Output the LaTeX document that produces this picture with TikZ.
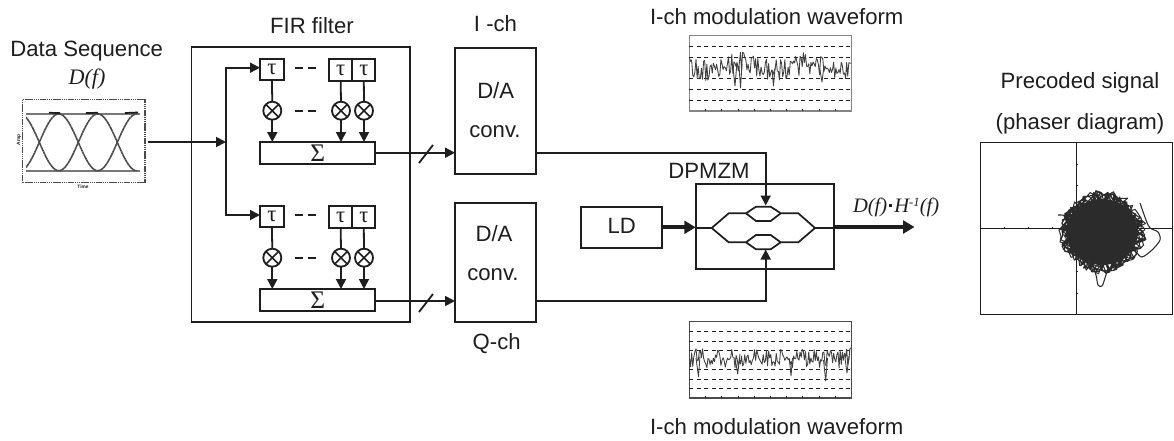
\documentclass[tikz,border=0pt]{standalone}
\usepackage{fontspec}
\setmainfont{Liberation Sans}
\newfontfamily\tmf{Liberation Serif}
\usetikzlibrary{arrows.meta,calc}
\definecolor{ink}{HTML}{1E1E1E}
\definecolor{wavegray}{HTML}{858585}
\definecolor{blobc}{HTML}{2B2B2B}
\newcommand{\pxbox}[7][]{%
  \pgfmathsetmacro\pxw{(#5-#3)*0.75}%
  \pgfmathsetmacro\pxh{(#6-#4)*0.75}%
  \node[boxn,#1,minimum width=\pxw pt,minimum height=\pxh pt] (#2) at ({(#3+#5)/2},{(#4+#6)/2}) {#7};}
\newcommand{\dfh}{{\tmf\itshape\fontsize{15.4pt}{17pt}\selectfont D(f)\hspace{1.5pt}\raisebox{3.5pt}{\rule{2.4pt}{2.4pt}}\hspace{1.5pt}H\raisebox{4.5pt}{\fontsize{9.5pt}{9.5pt}\selectfont -1}(f)}}
\begin{document}
\begin{tikzpicture}[x=0.75pt,y=-0.75pt,
  every node/.style={text=ink},
  lab/.style={font=\fontsize{16.6pt}{18pt}\selectfont,inner sep=0pt,outer sep=0pt},
  boxn/.style={draw=ink,line width=1.35pt,inner sep=0pt,outer sep=0pt,font=\fontsize{16.6pt}{18pt}\selectfont},
  taubox/.style={boxn,font=\tmf\fontsize{17pt}{17pt}\selectfont},
  sumbox/.style={boxn,font=\tmf\fontsize{19pt}{19pt}\selectfont},
  mult/.style={circle,draw=ink,line width=1.35pt,minimum size=13.5pt,inner sep=0pt,outer sep=0pt,
    path picture={\draw[ink,line width=1.2pt] ([shift={(1.5pt,-1.5pt)}]path picture bounding box.north west)--([shift={(-1.5pt,1.5pt)}]path picture bounding box.south east)
      ([shift={(-1.5pt,-1.5pt)}]path picture bounding box.north east)--([shift={(1.5pt,1.5pt)}]path picture bounding box.south west);}},
  conn/.style={draw=ink,line width=1.35pt},
  arr/.style={conn,-{Triangle[length=7.5pt,width=7.5pt]}},
  thickarr/.style={draw=ink,line width=3pt,-{Triangle[length=8.5pt,width=9.5pt]}},
  gaps/.style={draw=ink,line width=1.35pt,dash pattern=on 6pt off 3.5pt},
  griddash/.style={draw=ink,line width=0.6pt,dash pattern=on 3pt off 2.6pt},
  tick/.style={draw=ink,line width=0.5pt},
  wave/.style={draw=ink!85,line width=0.65pt,line join=round},
  mzm/.style={draw=ink,line width=1.3pt,line join=miter}]
\useasboundingbox (0,0) rectangle (1174,440);
\fill[white] (0,0) rectangle (1174,440);

% ---- left: data sequence
\node[lab] (dslabel) at (86.7,50.7) {Data Sequence};
\node[lab,font=\tmf\itshape\fontsize{16.6pt}{18pt}\selectfont] (dflabel) at (87,79) {D(f)};
\pxbox[draw=ink!80,line width=0.9pt,dash pattern=on 1pt off 0.4pt]{eye}{22.7}{99.3}{145}{182.7}{}
\node[inner sep=0pt,font=\bfseries\fontsize{3.6pt}{4pt}\selectfont] (eyex) at (83,187) {Time};
\node[inner sep=0pt,rotate=90,font=\bfseries\fontsize{3.6pt}{4pt}\selectfont] (eyey) at (19,140) {Amp};
\begin{scope}
  \clip (26,105) rectangle (140,178);
  \draw[ink!60,line width=1.6pt] (26,114)--(140,114) (26,170.7)--(140,170.7);
  \foreach \xc in {39.3,78.3,117.3}{
    \draw[ink!80,line width=1.2pt,dash pattern=on 2pt off 0.3pt] plot[domain=-19.5:19.5,samples=30] ({\xc+\x},{142.3-28.4*sin(\x/39*180)});
    \draw[ink!80,line width=1.2pt,dash pattern=on 2pt off 0.3pt] plot[domain=-19.5:19.5,samples=30] ({\xc+\x},{142.3+28.4*sin(\x/39*180)});
  }
  \draw[ink,line width=1.3pt] (49,112.8)--(60,113) (86,113)--(98,112.8) (125,113)--(138,112.5);
\end{scope}

% ---- FIR filter
\node[lab] (firlabel) at (312,26) {FIR filter};
\pxbox{fir}{191.5}{46.7}{410}{322.3}{}
% top branch
\pxbox[taubox]{ta}{260}{59}{283.7}{80}{τ}
\pxbox[taubox]{tb}{329}{59.3}{352.3}{81.3}{τ}
\pxbox[taubox]{tc}{352.3}{59.3}{375.3}{81.3}{τ}
\node[mult] (ma) at (272.3,110.7) {};
\node[mult] (mb) at (341,110.7) {};
\node[mult] (mc) at (364,110.7) {};
\pxbox[sumbox]{sa}{260}{142}{375.3}{164}{Σ}
% bottom branch
\pxbox[taubox]{td}{260}{205.7}{283.7}{227.3}{τ}
\pxbox[taubox]{te}{329}{206.3}{352.3}{228}{τ}
\pxbox[taubox]{tf}{352.3}{206.3}{375.3}{228}{τ}
\node[mult] (md) at (272.3,257.7) {};
\node[mult] (me) at (341,257.7) {};
\node[mult] (mf) at (364,257.7) {};
\pxbox[sumbox]{sb}{260}{289}{375.3}{311}{Σ}
\foreach \t/\m/\s in {ta/ma/sa,tb/mb/sa,tc/mc/sa,td/md/sb,te/me/sb,tf/mf/sb}{
  \draw[conn] (\t.south) -- (\m.north);
  \draw[arr] (\m.south) -- (\m.south |- \s.north);
}
\coordinate (din) at (148,142);
\coordinate (jm) at (226,142);
\coordinate (jt) at (226,67.7);
\coordinate (jb) at (226,215);
\draw[arr] (din) -- (jm);
\draw[conn,line cap=rect] (jt) -- (jb);
\draw[arr] (jt) -- (jt -| ta.west);
\draw[arr] (jb) -- (jb -| td.west);
\coordinate (da1) at (295,67.7); \coordinate (da2) at (316,67.7);
\coordinate (db1) at (295,110.7); \coordinate (db2) at (316,110.7);
\coordinate (dc1) at (295,215); \coordinate (dc2) at (316,215);
\coordinate (dd1) at (295,257.7); \coordinate (dd2) at (316,257.7);
\draw[gaps] (da1)--(da2);
\draw[gaps] (db1)--(db2);
\draw[gaps] (dc1)--(dc2);
\draw[gaps] (dd1)--(dd2);

% ---- D/A
\node[lab] (ilabel) at (495.5,23.5) {I -ch};
\node[lab] (qlabel) at (496.7,343.3) {Q-ch};
\pxbox{daa}{455}{48.3}{536}{174}{}
\pxbox{dab}{455}{202.7}{536}{322.3}{}
\node[lab] (daat) at (495.7,90.7) {D/A};
\node[lab] (daac) at (495,132) {conv.};
\node[lab] (dabt) at (494,234) {D/A};
\node[lab] (dabc) at (493,275) {conv.};
\coordinate (oa) at (375.3,152.7);
\coordinate (ob) at (375.3,301);
\draw[arr] (oa) -- (oa -| daa.west);
\draw[arr] (ob) -- (ob -| dab.west);
\coordinate (sl1) at (419,163); \coordinate (sl2) at (433,145);
\coordinate (sl3) at (419,312); \coordinate (sl4) at (433,294);
\draw[conn] (sl1)--(sl2);
\draw[conn] (sl3)--(sl4);

% ---- DPMZM
\node[lab] (dpl) at (709,170.7) {DPMZM};
\pxbox{dp}{695.7}{184.3}{834.3}{269.3}{}
\pxbox{ld}{581.3}{207.3}{662.3}{248.3}{}
\node[lab] (ldt) at (621.7,226) {LD};
\coordinate (ldout) at (662.3,227.3);
\coordinate (dpin) at (695.7,227.3);
\draw[thickarr] (ldout) -- (dpin);
\coordinate (dpout) at (834.3,227);
\coordinate (optout) at (914.5,227);
\draw[thickarr] (dpout) -- (optout);
\node[lab,anchor=west] (outlabel) at (853,207) {\dfh};
\draw[mzm] (695.7,228) -- (711.7,228)
  -- (728.7,213.3) -- (746,213.3) -- (756,206.7) -- (770.7,206.7) -- (780.7,213.3) -- (798.3,213.3)
  -- (815,228) -- (834.3,228);
\draw[mzm] (746,213.3) -- (756,221) -- (770.7,221) -- (780.7,213.3);
\draw[mzm] (711.7,228) -- (728.7,242.3) -- (746,242.3) -- (756,235) -- (770.7,235) -- (780.7,242.3) -- (798.3,242.3) -- (815,228);
\draw[mzm] (746,242.3) -- (756,249.3) -- (770.7,249.3) -- (780.7,242.3);
\coordinate (ua) at (765.7,152.7);
\coordinate (ub) at (765.7,205.5);
\coordinate (va) at (765.7,300.7);
\coordinate (vb) at (765.7,249.5);
\draw[arr] (daa.east |- ua) -- (ua) -- (ub);
\draw[arr] (dab.east |- va) -- (va) -- (vb);

% ---- top waveform
\node[lab] (wal) at (776.7,16.7) {I-ch modulation waveform};
\pxbox[draw=wavegray,line width=0.8pt]{wa}{689.3}{35.3}{851.3}{111}{}
\foreach \yy in {46,57.3,78.7,89.3,100.7}{\draw[griddash] (689.3,\yy)--(851.3,\yy);}
\foreach \k in {1,...,9}{\draw[tick] ({689.3+16.2*\k},111)--({689.3+16.2*\k},109.3);}
\pgfmathsetseed{4711}
\draw[wave] plot[domain=689.5:851,samples=150] (\x,{66.5+3.5*sin((\x-689)*5.2)+22*(rnd-0.5)});
\draw[wave] (733,68)--(735,86)--(737,62) (739,66)--(740.5,88)--(742,64) (772,70)--(773.5,86)--(775,68) (820,70)--(822,82)--(824,66);

% ---- bottom waveform
\node[lab] (wbl) at (776.7,426.7) {I-ch modulation waveform};
\pxbox[draw=ink!80,line width=0.8pt]{wb}{689.3}{321.7}{851.3}{398}{}
\foreach \yy in {331,341,350.7,369.3,379.3,388.3}{\draw[griddash] (689.3,\yy)--(851.3,\yy);}
\foreach \k in {1,...,9}{\draw[tick] ({689.3+16.2*\k},398)--({689.3+16.2*\k},396.3);}
\pgfmathsetseed{1234}
\draw[wave] plot[domain=689.5:851,samples=150] (\x,{358+20*(rnd-0.5)});
\draw[wave] (696,358)--(698.5,377)--(700,356) (735,358)--(737.7,374)--(740,354) (789.5,360)--(791,376)--(792.5,358) (823.5,360)--(825.7,381)--(827.5,358) (845,358)--(847,373)--(849,356);

% ---- phasor
\node[lab] (pl1) at (1080,82.7) {Precoded signal};
\node[lab] (pl2) at (1080,123.3) {(phaser diagram)};
\pxbox[line width=0.85pt]{ph}{980.7}{142.3}{1172.3}{314.3}{}
\draw[ink,line width=0.75pt] (ph.north -| 1076.3,0) -- (ph.south -| 1076.3,0);
\draw[ink,line width=0.75pt] (ph.west |- 0,228.3) -- (ph.east |- 0,228.3);
\foreach \xx in {1004,1028,1052}{\draw[tick] (\xx,228.3)--(\xx,226.5);}
\foreach \yy in {164,185,207,250,271.7,293}{\draw[tick] (1076.3,\yy)--(1078.3,\yy);}
\fill[blobc] (1102,232) ellipse [x radius=36, y radius=33];
\pgfmathsetseed{2024}
\draw[blobc,line width=0.75pt,line join=round] plot[domain=0:2520,samples=420]
  ({1102+(30+15*rnd)*cos(\x)},{232+(27+15*rnd)*sin(\x)});
\draw[blobc,line width=0.8pt,line join=round] plot[smooth] coordinates {
  (1140,203) (1146,220) (1150,228) (1158,232) (1160,240) (1152,250) (1142,257) (1136,252) (1128,246)};
\draw[blobc,line width=0.8pt,line join=round] plot[smooth] coordinates {
  (1092,262) (1096,275) (1098,285) (1102,286) (1105,278) (1108,268)};
\draw[blobc,line width=0.8pt,line join=round] plot[smooth] coordinates {
  (1058,215) (1066,216) (1062,224) (1072,226)};
\end{tikzpicture}
\end{document}
